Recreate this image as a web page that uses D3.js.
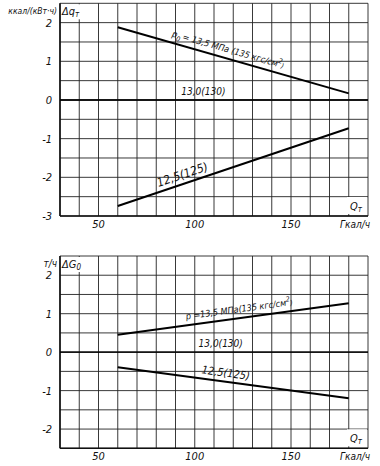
<!DOCTYPE html>
<html><head><meta charset="utf-8">
<script src="https://cdn.jsdelivr.net/npm/d3@7"></script>
<style>
html,body{margin:0;padding:0;background:#fff;}
svg text{font-family:"Liberation Sans Narrow","DejaVu Sans Condensed","Liberation Sans",sans-serif;font-style:italic;fill:#111;}
</style></head>
<body><svg id="c" width="380" height="466"></svg>
<script>
// ---- data ----
const xTicks = [50, 100, 150];
const xGrid = d3.range(30, 191, 10);
const qEnds = [60, 180];

// top chart: Δq_т, ккал/(кВт·ч)
const topTicks = [2, 1, 0, -1, -2, -3];
const topP135 = [1.88, 0.17];
const topP130 = [0, 0];
const topP125 = [-2.74, -0.73];

// bottom chart: ΔG₀, т/ч
const botTicks = [2, 1, 0, -1, -2];
const botP135 = [0.45, 1.27];
const botP130 = [0, 0];
const botP125 = [-0.39, -1.2];

const svg = d3.select("#c");
const L = 60, R = 368;

function panel(cfg){
  const x = d3.scaleLinear().domain([30, 190]).range([L, R]);
  const y = d3.scaleLinear().domain(cfg.ydom).range([cfg.y1, cfg.y0]);
  const g = svg.append("g");
  const yGrid = d3.range(cfg.ydom[0], cfg.ydom[1] + 0.01, 0.5);
  g.selectAll(".vg").data(xGrid).join("line")
    .attr("x1", d => x(d)).attr("x2", d => x(d))
    .attr("y1", cfg.y0).attr("y2", cfg.y1)
    .attr("stroke", "#222").attr("stroke-width", 0.9);
  g.selectAll(".hg").data(yGrid).join("line")
    .attr("x1", L).attr("x2", R)
    .attr("y1", d => y(d)).attr("y2", d => y(d))
    .attr("stroke", "#222").attr("stroke-width", d => d === 0 ? 1.4 : 0.9);
  g.append("line").attr("x1", L).attr("x2", L).attr("y1", cfg.y0).attr("y2", cfg.y1).attr("stroke", "#111").attr("stroke-width", 1.6);
  g.append("line").attr("x1", L).attr("x2", R).attr("y1", cfg.y1).attr("y2", cfg.y1).attr("stroke", "#111").attr("stroke-width", 1.6);

  const line = d3.line().x((d, i) => x(qEnds[i])).y(d => y(d));
  [cfg.s135, cfg.s125].forEach(s => {
    g.append("path").attr("d", line(s)).attr("fill", "none").attr("stroke", "#000").attr("stroke-width", 2);
  });
  g.append("path").attr("d", d3.line().x((d, i) => x(i ? 190 : 30)).y(d => y(d))(cfg.s130))
    .attr("fill", "none").attr("stroke", "#000").attr("stroke-width", 1.4);

  g.selectAll(".yt").data(cfg.ticks).join("text")
    .attr("x", 52).attr("y", d => y(d) + 4)
    .attr("text-anchor", "end").attr("font-size", 11)
    .text(d => d < 0 ? "-" + Math.abs(d) : d);
  g.selectAll(".xt").data(xTicks).join("text")
    .attr("x", d => x(d)).attr("y", cfg.y1 + 12)
    .attr("text-anchor", "middle").attr("font-size", 11)
    .text(d => d);
  g.append("text").attr("x", 355).attr("y", cfg.y1 + 12).attr("text-anchor", "middle")
    .attr("font-size", 10).text("Гкал/ч");

  g.append("rect").attr("x", 347).attr("y", cfg.y1 - 19).attr("width", 20).attr("height", 17).attr("fill", "#fff");
  const q = g.append("text").attr("x", 350).attr("y", cfg.y1 - 6).attr("font-size", 11);
  q.append("tspan").text("Q");
  q.append("tspan").attr("font-size", 8).attr("dy", 2).text("т");

  g.append("rect").attr("x", L + 1).attr("y", cfg.y0 + 1).attr("width", 20).attr("height", 15).attr("fill", "#fff");
  const t = g.append("text").attr("x", L + 2).attr("y", cfg.y0 + 12).attr("font-size", 11);
  t.append("tspan").text(cfg.sym);
  t.append("tspan").attr("font-size", 8).attr("dy", 2).text(cfg.sub);
  g.append("text").attr("x", 57).attr("y", cfg.y0 + 11).attr("text-anchor", "end")
    .attr("font-size", cfg.unitSize).text(cfg.unit);

  function label(s, at, txt, off, size){
    const ang = Math.atan2(y(s[1]) - y(s[0]), x(qEnds[1]) - x(qEnds[0])) * 180 / Math.PI;
    const t = (at - qEnds[0]) / (qEnds[1] - qEnds[0]);
    const v = s[0] + (s[1] - s[0]) * t;
    const tx = g.append("text")
      .attr("transform", `translate(${x(at)},${y(v)}) rotate(${ang}) translate(0,${-off})`)
      .attr("font-size", size || 10);
    txt.forEach(p => {
      const ts = tx.append("tspan").text(p[0]);
      if (p[1]) ts.attr("font-size", 7).attr("dy", p[1]);
    });
  }
  label(cfg.s135, cfg.l135at, cfg.l135, 6, 9);
  label(cfg.s125, cfg.l125at, [["12,5(125)"]], 5, cfg.l125size);
  g.append("text").attr("x", x(cfg.l130at)).attr("y", y(0) - 5).attr("font-size", 10).text("13,0(130)");
}

panel({ydom: [-3, 2.5], y0: 3.3, y1: 216, ticks: topTicks,
  s135: topP135, s130: topP130, s125: topP125,
  sym: "Δq", sub: "т", unit: "ккал/(кВт·ч)", unitSize: 8.5,
  l135at: 87, l125at: 82, l130at: 93, l125size: 12,
  l135: [["p"], ["0", 3], [" ", -3], ["= 13,5 МПа (135 кгс/см"], ["2", -4], [")", 4]]});

panel({ydom: [-2.5, 2.5], y0: 256, y1: 448.3, ticks: botTicks,
  s135: botP135, s130: botP130, s125: botP125,
  sym: "ΔG", sub: "0", unit: "т/ч", unitSize: 10,
  l135at: 96, l125at: 103, l130at: 102, l125size: 11,
  l135: [["p =13,5 МПа(135 кгс/см"], ["2", -4], [")", 4]]});
</script></body></html>
